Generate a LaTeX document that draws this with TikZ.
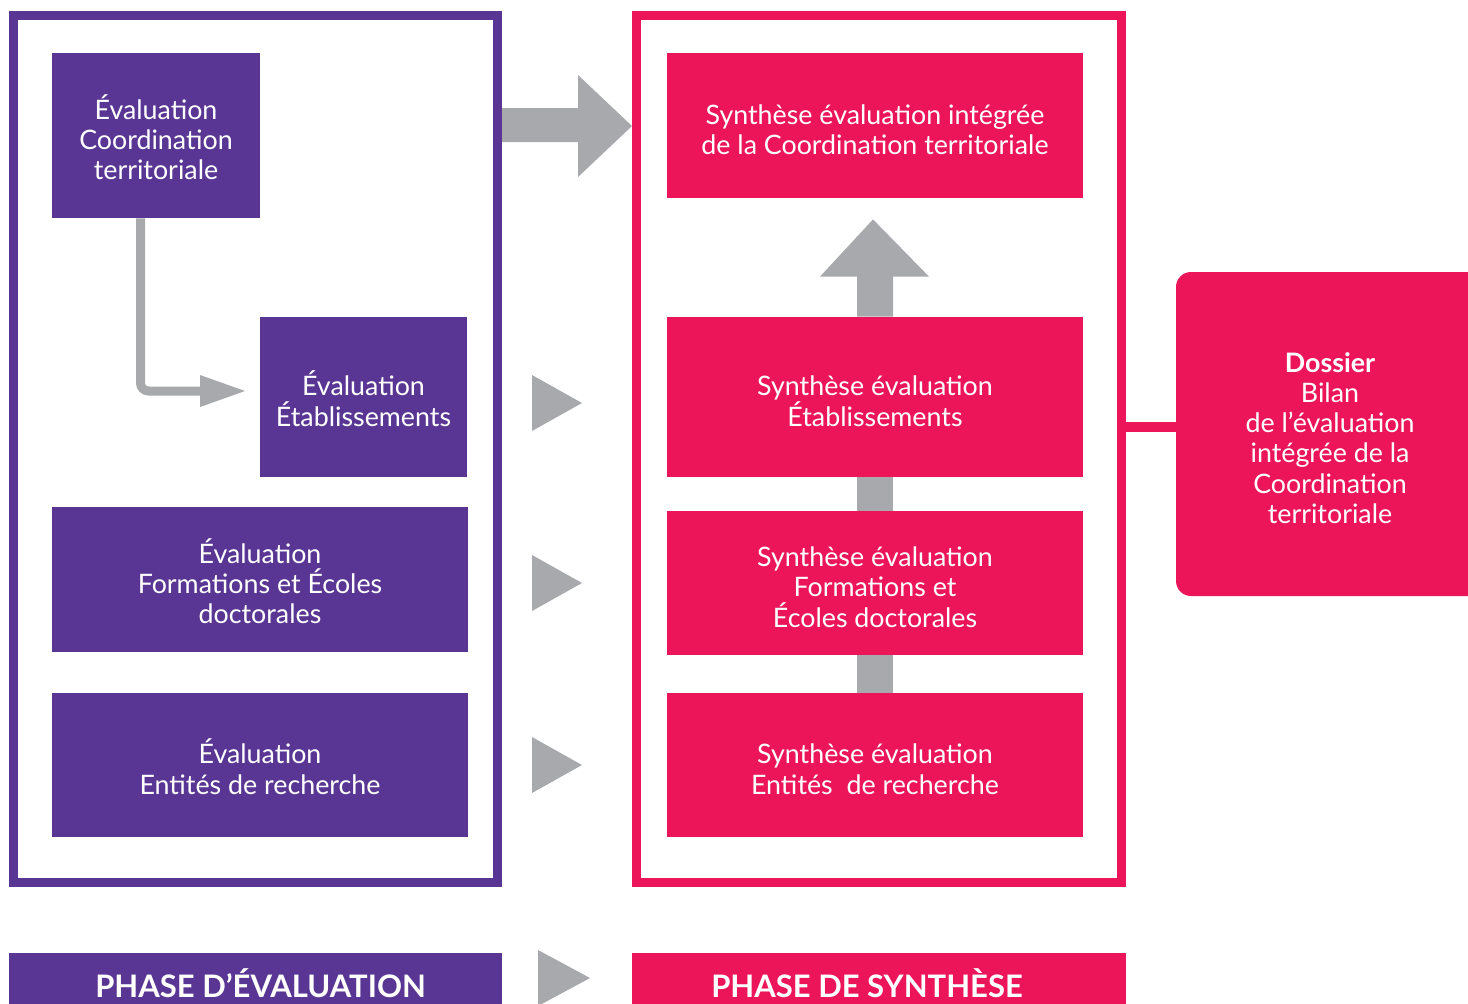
\documentclass[tikz,border=0pt]{standalone}
\usepackage{fontspec}
\setmainfont{Lato}
\usetikzlibrary{calc}
\definecolor{evpurple}{HTML}{5A3694}
\definecolor{synpink}{HTML}{EC1559}
\definecolor{arrgray}{HTML}{A7A9AC}
\newcommand{\toplift}{\rule{0pt}{14pt}}
\tikzset{
  txt/.style={rectangle, inner sep=0pt, align=center, text=white, font=\fontsize{13.4}{15.1}\selectfont},
  box/.style={txt},
  evbox/.style={box, fill=evpurple},
  synbox/.style={box, fill=synpink},
  frame/.style={rectangle, draw, line width=4.5pt, inner sep=0pt, minimum width=242pt, minimum height=433.5pt},
  phasebox/.style={rectangle, inner sep=0pt, minimum width=246.5pt, minimum height=30pt},
  phasetxt/.style={inner sep=0pt, text=white, font=\fontsize{15.5}{17}\selectfont\bfseries},
  tri/.style={fill=arrgray},
}
\begin{document}
\begin{tikzpicture}[x=0.5pt,y=-0.5pt]
\useasboundingbox (0,0) rectangle (1468,1003);
\clip (0,0) rectangle (1468,1003);
\fill[white] (0,0) rectangle (1468,1003);

% frames
\node[frame, draw=evpurple] (lframe) at (255.5,449) {};
\node[frame, draw=synpink, minimum width=242.25pt] (sframe) at (878.75,449) {};

% evaluation boxes
\node[evbox, minimum width=104pt, minimum height=82.5pt] (e1) at (156,135.5) {\toplift Évaluation\\Coordination\\territoriale};
\node[evbox, minimum width=103.5pt, minimum height=80pt] (e2) at (363.5,397) {\toplift Évaluation\\Établissements};
\node[evbox, minimum width=208pt, minimum height=72.5pt] (e3) at (260,579.5) {\toplift Évaluation\\Formations et Écoles\\doctorales};
\node[evbox, minimum width=208pt, minimum height=72pt] (e4) at (260,765) {\toplift Évaluation\\Entités de recherche};

% synthesis boxes
\node[synbox, minimum width=208pt, minimum height=72.5pt] (s1) at (875,125.5) {\toplift Synthèse évaluation intégrée\\de la Coordination territoriale};
\node[synbox, minimum width=208pt, minimum height=80pt] (s2) at (875,397) {\toplift Synthèse évaluation\\Établissements};
\node[synbox, minimum width=208pt, minimum height=72pt] (s3) at (875,583) {\toplift Synthèse évaluation\\Formations et\\Écoles doctorales};
\node[synbox, minimum width=208pt, minimum height=72pt] (s4) at (875,765) {\toplift Synthèse évaluation\\Entités\ \ de recherche};

% dossier
\node[synbox, rounded corners=7.5pt, minimum width=154pt, minimum height=162pt] (dos) at (1330,434) {};
\node[txt] (dostext) at (1330,438) {\textbf{Dossier}\\Bilan\\de l’évaluation\\intégrée de la\\Coordination\\territoriale};
\draw[synpink, line width=5pt] ([yshift=3.5pt]sframe.east |- dos.west) -- ([yshift=3.5pt]dos.west);

% phase boxes
\node[phasebox, fill=evpurple] (p1) at (255.5,983) {};
\node[phasetxt] (p1text) at (260.5,983) {PHASE D’ÉVALUATION};
\node[phasebox, fill=synpink, minimum width=247pt] (p2) at (879,983) {};
\node[phasetxt] (p2text) at (867,983) {PHASE DE SYNTHÈSE};

% L connector e1 -> e2
\coordinate (lcorner) at (140.5,391);
\coordinate (ltip) at (245,391);
\draw[arrgray, line width=4.5pt, rounded corners=4pt] (lcorner |- e1.south) -- (lcorner) -- ($(ltip)+(-42,0)$);
\fill[arrgray] ($(ltip)+(-45,-16)$) -- (ltip) -- ($(ltip)+(-45,16)$) -- cycle;

% big arrow lframe -> s1 area
\fill[arrgray] (502,108) -- (578,108) -- (578,75) -- (632,126) -- (578,177) -- (578,142) -- (502,142) -- cycle;

% small triangles
\fill[tri] (532,375) -- (582,403) -- (532,431) -- cycle;
\fill[tri] (532,555) -- (582,583) -- (532,611) -- cycle;
\fill[tri] (532,737) -- (582,765) -- (532,793) -- cycle;
\fill[tri] (538,950) -- (590,978) -- (538,1006) -- cycle;

% vertical connectors on the synthesis side
\fill[arrgray] ($(s3.north)+(-18,0)$) rectangle ($(s2.south)+(18,0)$);
\fill[arrgray] ($(s4.north)+(-18,0)$) rectangle ($(s3.south)+(18,0)$);
\fill[arrgray] ($(s2.north)+(-18,0)$) -- ($(s2.north)+(-18,-40)$) -- ($(s2.north)+(-55,-40)$) -- ($(s1.south)+(-2,21)$) -- ($(s2.north)+(54,-40)$) -- ($(s2.north)+(18,-40)$) -- ($(s2.north)+(18,0)$) -- cycle;
\end{tikzpicture}
\end{document}
